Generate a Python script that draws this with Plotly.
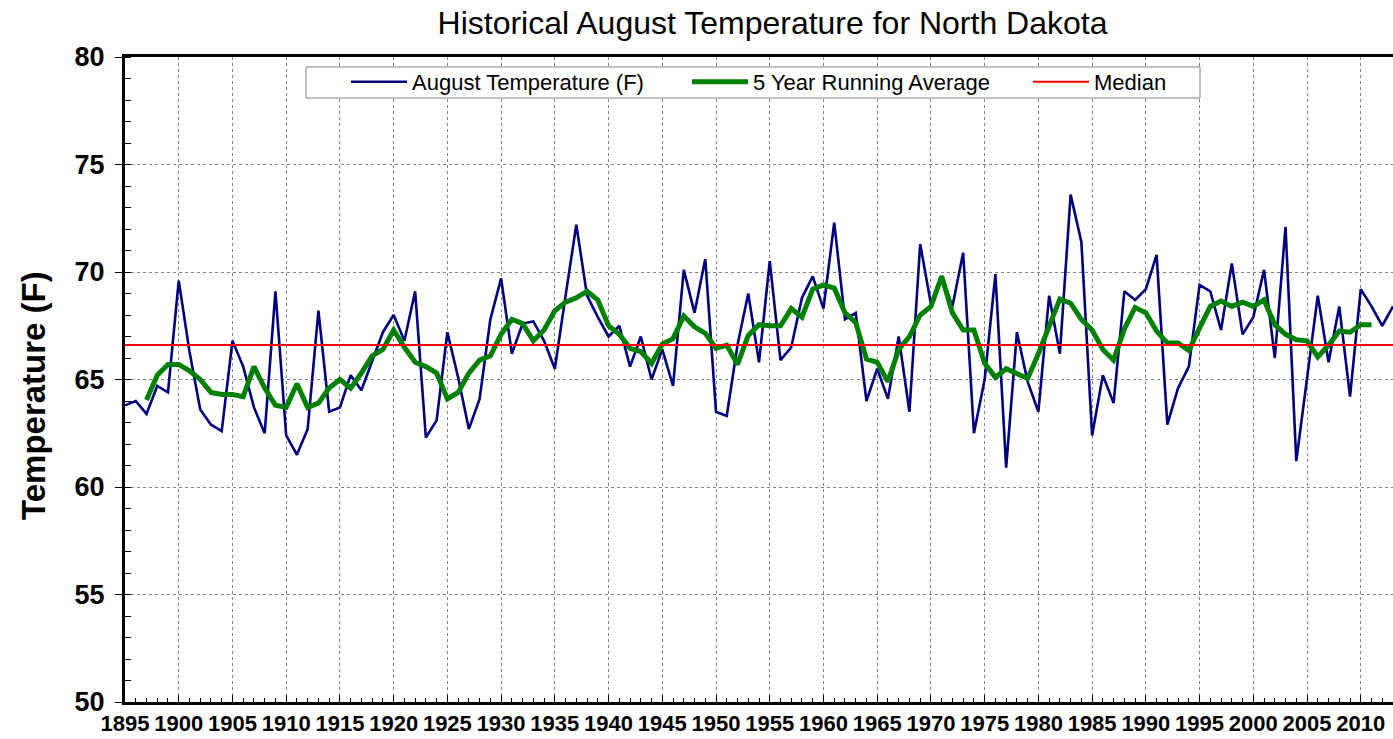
import plotly.graph_objects as go

# ---- data ----
start_year = 1895
august_temp = [
    # 1895-1904
    63.8, 64.0, 63.4, 64.7, 64.4, 69.6, 66.3, 63.6, 62.9, 62.6,
    # 1905-1914
    66.8, 65.6, 63.7, 62.5, 69.1, 62.4, 61.5, 62.7, 68.2, 63.5,
    # 1915-1924
    63.7, 65.2, 64.5, 65.9, 67.2, 68.0, 66.8, 69.1, 62.3, 63.1,
    # 1925-1934
    67.2, 65.1, 62.7, 64.1, 67.8, 69.7, 66.2, 67.6, 67.7, 66.8,
    # 1935-1944
    65.5, 68.9, 72.2, 68.9, 67.9, 67.0, 67.5, 65.6, 67.0, 65.0,
    # 1945-1954
    66.4, 64.7, 70.1, 68.1, 70.6, 63.5, 63.3, 66.6, 69.0, 65.8,
    # 1955-1964
    70.5, 65.9, 66.5, 68.8, 69.8, 68.3, 72.3, 67.8, 68.1, 64.0,
    # 1965-1974
    65.5, 64.1, 67.0, 63.5, 71.3, 68.5, 69.8, 68.4, 70.9, 62.5,
    # 1975-1984
    65.0, 69.9, 60.9, 67.2, 64.9, 63.5, 68.9, 66.2, 73.6, 71.4,
    # 1985-1994
    62.4, 65.2, 63.9, 69.1, 68.7, 69.2, 70.8, 62.9, 64.6, 65.6,
    # 1995-2004
    69.4, 69.1, 67.3, 70.4, 67.1, 67.9, 70.1, 66.0, 72.1, 61.2,
    # 2005-2013
    65.0, 68.9, 65.8, 68.4, 64.2, 69.2, 68.4, 67.5, 68.4,
]

avg_start_year = 1897
running_avg = [
    # 1897-1906
    64.05, 65.2, 65.7, 65.7, 65.4, 65.0, 64.4, 64.3, 64.3, 64.2,
    # 1907-1916
    65.6, 64.6, 63.8, 63.7, 64.8, 63.7, 63.9, 64.6, 65.0, 64.6,
    # 1917-1926
    65.3, 66.1, 66.4, 67.3, 66.5, 65.8, 65.6, 65.3, 64.1, 64.4,
    # 1927-1936
    65.3, 65.9, 66.1, 67.1, 67.8, 67.6, 66.8, 67.3, 68.2, 68.6,
    # 1937-1946
    68.8, 69.1, 68.7, 67.5, 67.1, 66.45, 66.3, 65.75, 66.65, 66.9,
    # 1947-1956
    67.95, 67.45, 67.15, 66.45, 66.6, 65.7, 67.05, 67.55, 67.5, 67.5,
    # 1957-1966
    68.3, 67.9, 69.2, 69.4, 69.25, 68.1, 67.65, 65.95, 65.8, 64.9,
    # 1967-1976
    66.4, 67.0, 68.0, 68.4, 69.8, 68.1, 67.3, 67.3, 65.75, 65.1,
    # 1977-1986
    65.5, 65.3, 65.05, 66.2, 67.5, 68.75, 68.55, 67.8, 67.3, 66.4,
    # 1987-1996
    65.9, 67.35, 68.35, 68.1, 67.25, 66.7, 66.7, 66.35, 67.4, 68.4,
    # 1997-2006
    68.65, 68.4, 68.6, 68.4, 68.7, 67.55, 67.1, 66.85, 66.8, 66.05,
    # 2007-2011
    66.6, 67.25, 67.2, 67.55, 67.55,
]

median_temp = 66.6

years = list(range(start_year, start_year + len(august_temp)))
avg_years = list(range(avg_start_year, avg_start_year + len(running_avg)))

FONT = "Liberation Sans, Arial, sans-serif"

# plot area geometry (pixels)
L, R, T, B = 125, 1393, 57, 702
PW, PH = R - L, B - T


def px_x(p):
    return (p - L) / PW


def px_y(p):
    return (B - p) / PH


fig = go.Figure()
fig.add_trace(go.Scatter(
    x=years, y=august_temp, mode="lines", name="August Temperature (F)",
    line=dict(color="#000080", width=2.6),
))
fig.add_trace(go.Scatter(
    x=avg_years, y=running_avg, mode="lines", name="5 Year Running Average",
    line=dict(color="#008000", width=5),
))
fig.add_trace(go.Scatter(
    x=[years[0], years[-1]], y=[median_temp, median_temp], mode="lines", name="Median",
    line=dict(color="#FF0000", width=2),
))

fig.update_layout(
    width=1393, height=739,
    margin=dict(l=L, r=1393 - R, t=T, b=739 - B, autoexpand=False),
    paper_bgcolor="white", plot_bgcolor="white",
    font=dict(family=FONT, color="black"),
    title=dict(
        text="Historical August Temperature for North Dakota",
        font=dict(family=FONT, size=32, color="black"),
        x=772.5 / 1393, xanchor="center", xref="container",
        y=1 - 23 / 739, yanchor="middle", yref="container",
    ),
    showlegend=True,
    legend=dict(
        orientation="h",
        x=px_x(346), xanchor="left",
        y=px_y(61), yanchor="top",
        bgcolor="rgba(0,0,0,0)", borderwidth=0,
        font=dict(family=FONT, size=22, color="black"),
        entrywidth=270, entrywidthmode="pixels",
        itemwidth=56,
        traceorder="normal",
    ),
    shapes=[dict(
        type="rect", xref="paper", yref="paper",
        x0=px_x(306), x1=px_x(1200), y0=px_y(98), y1=px_y(67),
        line=dict(color="#808080", width=1), fillcolor="white", layer="above",
    )],
)

fig.update_xaxes(
    range=[years[0], years[-1]],
    tickmode="linear", tick0=1895, dtick=5,
    ticks="inside", ticklen=7, tickwidth=1, tickcolor="black",
    minor=dict(dtick=1, ticks="inside", ticklen=4, tickcolor="black", showgrid=False),
    showgrid=True, gridcolor="#7f7f7f", griddash="dot", gridwidth=1,
    showline=True, linecolor="black", linewidth=3, mirror=True,
    tickfont=dict(family=FONT, size=22, color="black", weight="bold"),
    ticklabelstandoff=0,
    zeroline=False,
)
fig.update_yaxes(
    range=[50, 80],
    tickmode="linear", tick0=50, dtick=5,
    ticks="outside", ticklen=7, tickwidth=1, tickcolor="black",
    minor=dict(dtick=1, ticks="inside", ticklen=6, tickcolor="black", showgrid=False),
    showgrid=True, gridcolor="#7f7f7f", griddash="dot", gridwidth=1,
    showline=True, linecolor="black", linewidth=3, mirror=False,
    tickfont=dict(family=FONT, size=27, color="black", weight="bold"),
    ticklabelstandoff=5,
    zeroline=False,
)

fig.add_annotation(
    text="Temperature (F)", textangle=-90,
    xref="paper", yref="paper",
    x=px_x(33), y=px_y(395),
    xanchor="center", yanchor="middle", showarrow=False,
    font=dict(family=FONT, size=33, color="black", weight="bold"),
)

fig.write_html(
    "out.html",
    config={"displayModeBar": False},
    post_script="document.body.style.margin='0';",
)
